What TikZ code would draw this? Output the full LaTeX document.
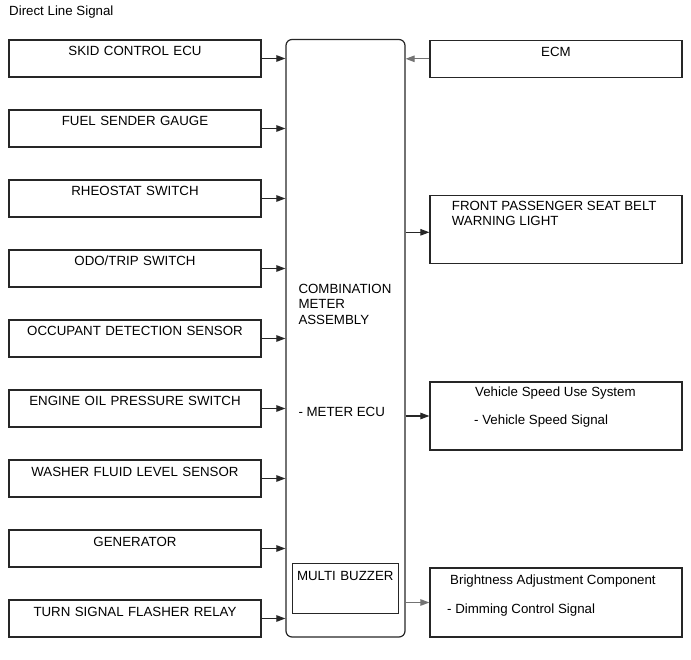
\documentclass[tikz,border=0pt]{standalone}
\usepackage{fontspec}
\setmainfont{Liberation Sans}
\usetikzlibrary{arrows.meta}
\begin{document}
\begin{tikzpicture}[x=1pt,y=-1pt,
  every node/.style={font=\fontsize{13.3}{15.5}\selectfont, text=black},
  lbox/.style={draw=black!85, line width=1.2pt, minimum width=252pt, inner xsep=0pt, inner ysep=0pt,
    text height=16pt, text depth=21pt, align=center, text width=252pt},
  rbox/.style={draw=black!85, line width=1.2pt, minimum width=252pt, inner sep=0pt},
  txt/.style={anchor=base west, inner sep=0pt},
  arr/.style={-{Triangle[length=9pt,width=6.5pt]}, line width=1.1pt, draw=black!85},
  garr/.style={-{Triangle[length=9pt,width=6.5pt]}, line width=1.1pt, draw=black!55}]
\useasboundingbox (0,0) rectangle (691,660);
\node[txt] (title) at (9,16) {Direct Line Signal};
% main block
\node[draw=black!85, line width=1.2pt, rounded corners=6pt, minimum width=119pt, minimum height=597.5pt, inner sep=0pt] (main) at (345.5,338.25) {};
\node[txt] (m1) at (298.3,293.3) {COMBINATION};
\node[txt] (m2) at (298.3,308.8) {METER};
\node[txt] (m3) at (298.3,324.3) {ASSEMBLY};
\node[txt] (m4) at (298.3,416.7) {- METER ECU};
\node[draw=black!85, line width=1.2pt, minimum width=106pt, inner sep=0pt, text height=17pt, text depth=33pt, align=center, text width=106pt] (buz) at (345.3,588.3) {MULTI BUZZER};
% left boxes
\node[lbox] (l1) at (135,58.5) {SKID CONTROL ECU};
\node[lbox] (l2) at (135,128.5) {FUEL SENDER GAUGE};
\node[lbox] (l3) at (135,198.5) {RHEOSTAT SWITCH};
\node[lbox] (l4) at (135,268.5) {ODO/TRIP SWITCH};
\node[lbox] (l5) at (135,338.5) {OCCUPANT DETECTION SENSOR};
\node[lbox] (l6) at (135,408.5) {ENGINE OIL PRESSURE SWITCH};
\node[lbox] (l7) at (135,478.5) {WASHER FLUID LEVEL SENSOR};
\node[lbox] (l8) at (135,548.5) {GENERATOR};
\node[lbox] (l9) at (135,618.5) {TURN SIGNAL FLASHER RELAY};
\foreach \i in {1,...,9} {\draw[arr] (l\i.east) -- (l\i.east -| main.west);}
% right boxes
\node[lbox] (r1) at (556,58.8) {ECM};
\node[rbox, minimum height=68pt] (r2) at (556,229.9) {};
\node[txt] (r2a) at (451.7,210.7) {FRONT PASSENGER SEAT BELT};
\node[txt] (r2b) at (451.7,225.7) {WARNING LIGHT};
\node[rbox, minimum height=68pt] (r3) at (556,416) {};
\node[txt] (r3a) at (475,396.7) {Vehicle Speed Use System};
\node[txt] (r3b) at (474,424) {- Vehicle Speed Signal};
\node[rbox, minimum height=69pt] (r4) at (556,602.5) {};
\node[txt] (r4a) at (450,584) {Brightness Adjustment Component};
\node[txt] (r4b) at (447,613) {- Dimming Control Signal};
\coordinate (r2in) at ([yshift=-2.4pt]r2.west);
\draw[garr] (r1.west) -- (r1.west -| main.east);
\draw[arr] (r2in -| main.east) -- (r2in);
\draw[arr] (r3.west -| main.east) -- (r3.west);
\draw[garr] (r4.west -| main.east) -- (r4.west);
\end{tikzpicture}
\end{document}
